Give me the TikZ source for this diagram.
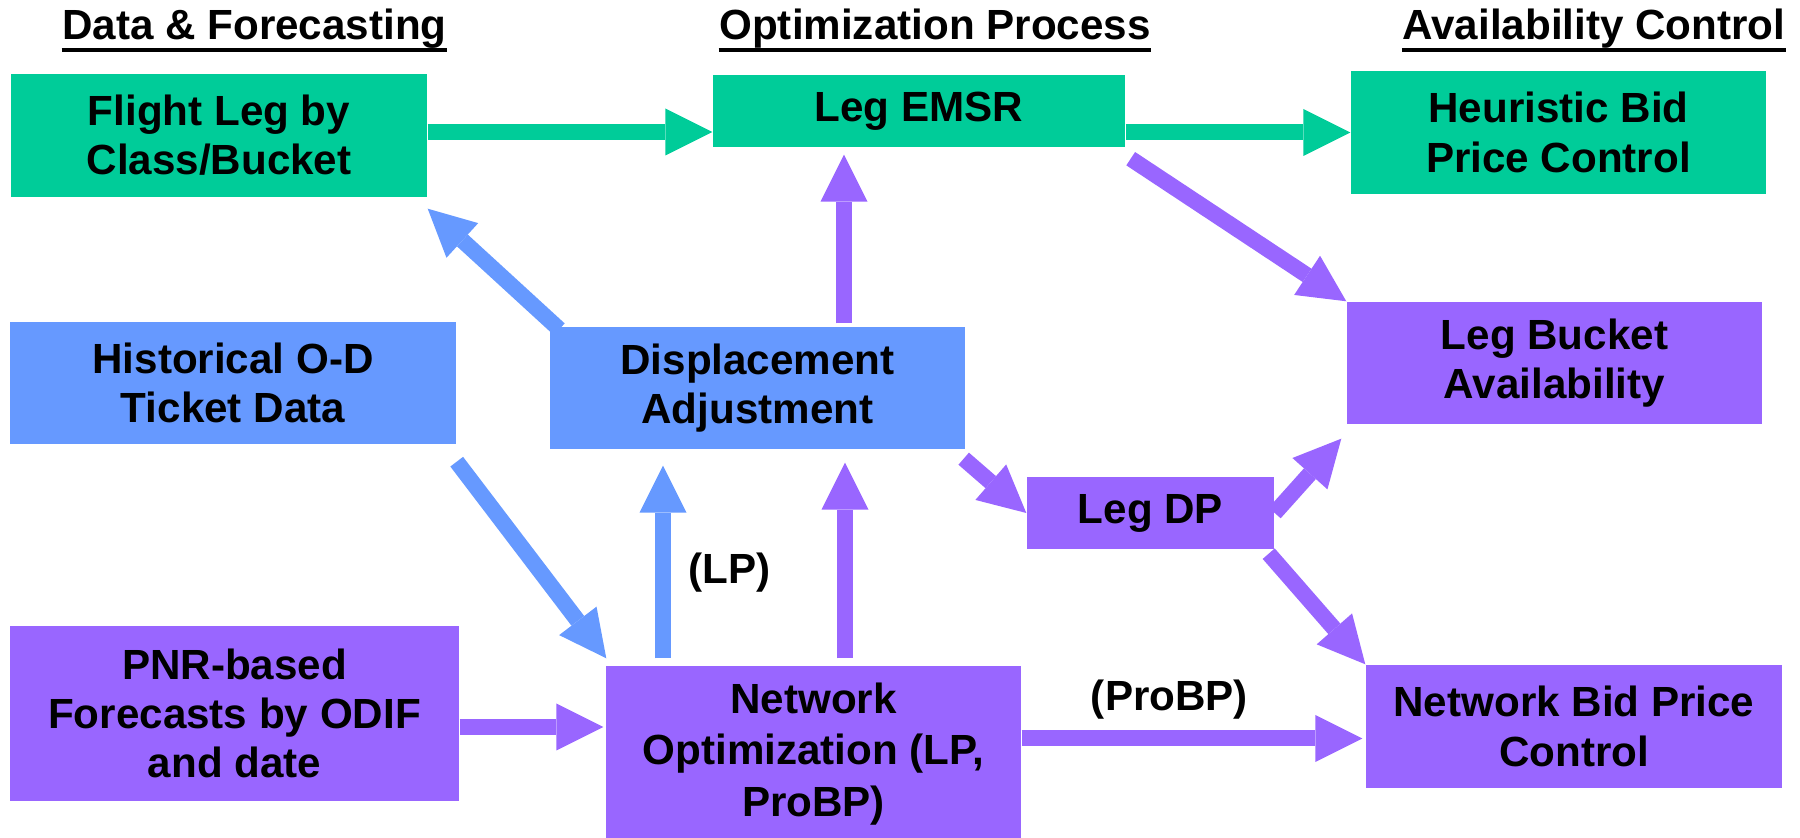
\documentclass[tikz,border=0pt]{standalone}
\usepackage{fontspec}
\setmainfont{Liberation Sans}
\usetikzlibrary{arrows.meta}
\definecolor{odgreen}{RGB}{0,204,153}
\definecolor{odblue}{RGB}{102,153,255}
\definecolor{odpurple}{RGB}{153,102,255}
\begin{document}
\begin{tikzpicture}[>={Triangle[width=0.47cm,length=0.47cm,line width=0pt]},
  every node/.style={font=\fontsize{12}{14}\selectfont\bfseries},
  box/.style={fill=#1, align=center, inner sep=0pt},
  title/.style={anchor=base, inner sep=0pt},
  flow/.style={draw=#1, line width=0.16cm, ->}]
\useasboundingbox (0,0) rectangle (18,8.38);
% column heads
\node[title] (hdata) at (2.545,7.98) {Data \& Forecasting};
\node[title] (hopt) at (9.35,7.98) {Optimization Process};
\node[title] (havail) at (15.94,7.98) {Availability Control};
\foreach \h in {hdata,hopt,havail}
  \draw[line width=0.04cm]([yshift=-0.1cm]\h.base west)--([yshift=-0.1cm]\h.base east);
% boxes
\node[box=odgreen, minimum width=4.16cm, minimum height=1.23cm] (flight) at (2.19,7.025) {Flight Leg by\\Class/Bucket};
\node[box=odgreen, minimum width=4.12cm, minimum height=0.72cm] (emsr) at (9.19,7.27) {Leg EMSR};
\node[box=odgreen, minimum width=4.15cm, minimum height=1.23cm] (heur) at (15.585,7.055) {Heuristic Bid\\Price Control};
\node[box=odblue, minimum width=4.46cm, minimum height=1.22cm] (hist) at (2.33,4.55) {Historical O-D\\Ticket Data};
\node[box=odblue, minimum width=4.15cm, minimum height=1.22cm] (disp) at (7.575,4.50) {Displacement\\Adjustment};
\node[box=odpurple, minimum width=4.15cm, minimum height=1.22cm] (bucket) at (15.545,4.75) {Leg Bucket\\Availability};
\node[box=odpurple, minimum width=2.47cm, minimum height=0.72cm] (legdp) at (11.505,3.25) {Leg DP};
\node[box=odpurple, minimum width=4.49cm, minimum height=1.75cm] (pnr) at (2.345,1.245) {PNR-based\\Forecasts by ODIF\\and date};
\node[box=odpurple, minimum width=4.15cm, minimum height=1.76cm, font=\fontsize{12}{14.7}\selectfont\bfseries] (netopt) at (8.135,0.84) {Network\\Optimization (LP,\\ProBP)};
\node[box=odpurple, minimum width=4.16cm, minimum height=1.23cm] (netbid) at (15.74,1.115) {Network Bid Price\\Control};
% flows
\coordinate (fl) at ([yshift=0.035cm]flight.east);
\draw[flow=odgreen](fl)--(fl -| emsr.west);
\draw[flow=odgreen](emsr.east |- heur.west)--(heur.west);
\draw[flow=odpurple]([shift={(0.05,-0.11)}]emsr.south east)--(bucket.north west);
\draw[flow=odblue]([shift={(0.10,-0.03)}]disp.north west)--([yshift=-0.11cm]flight.south east);
\coordinate (du) at ([shift={(0.865,0.03)}]disp.north);
\draw[flow=odpurple, shorten >=0.07cm](du)--(du |- emsr.south);
\draw[flow=odblue]([yshift=-0.17cm]hist.south east)--([shift={(0.01,0.07)}]netopt.north west);
\coordinate (lp) at ([shift={(-1.505,0.07)}]netopt.north);
\draw[flow=odblue, shorten >=0.16cm](lp)--(lp |- disp.south) node[pos=0.41, right=0.06cm]{(LP)};
\coordinate (np) at ([shift={(0.315,0.07)}]netopt.north);
\draw[flow=odpurple, shorten >=0.13cm](np)--(np |- disp.south);
\coordinate (pn) at ([yshift=-0.135cm]pnr.east);
\draw[flow=odpurple, shorten >=0.02cm](pn)--(pn -| netopt.west);
\draw[flow=odpurple]([shift={(-0.02,-0.09)}]disp.south east)--(legdp.west);
\draw[flow=odpurple](legdp.east)--([shift={(-0.05,-0.14)}]bucket.south west);
\draw[flow=odpurple]([shift={(-0.06,-0.04)}]legdp.south east)--(netbid.north west);
\coordinate (pb) at ([yshift=-0.12cm]netbid.west);
\draw[flow=odpurple, shorten >=0.03cm](pb -| netopt.east)--(pb) node[pos=0.43, above=0cm]{(ProBP)};
\end{tikzpicture}
\end{document}
